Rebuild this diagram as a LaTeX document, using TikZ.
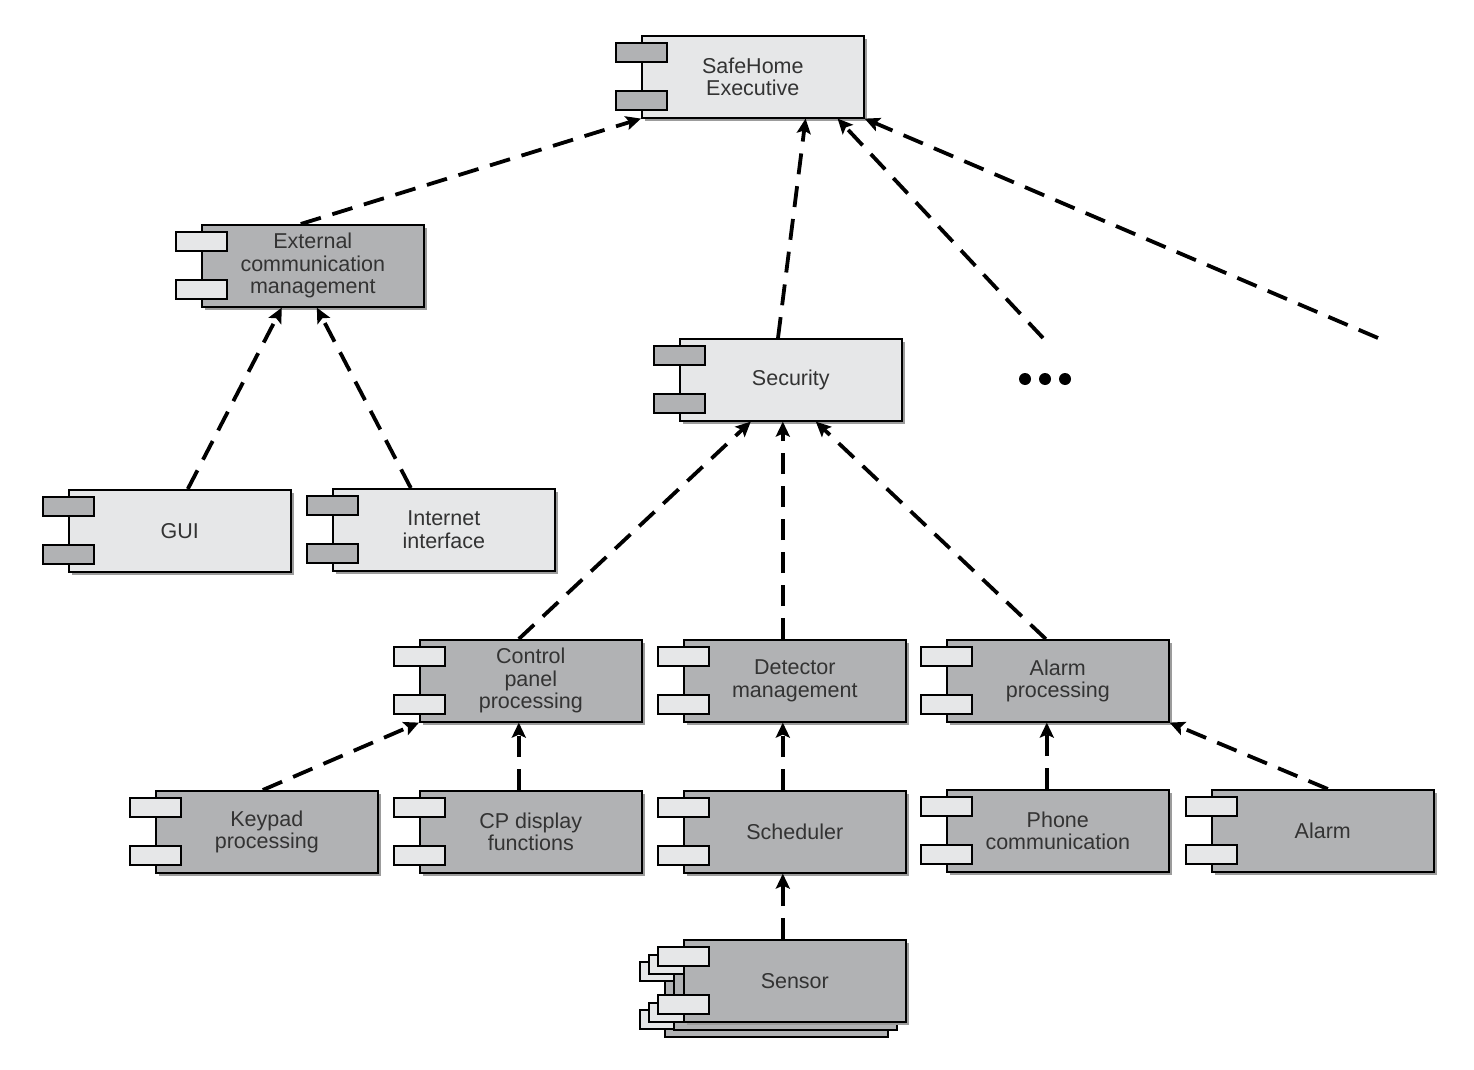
\documentclass[tikz,border=0pt]{standalone}
\usepackage{fontspec}
\setmainfont{Liberation Sans}
\usetikzlibrary{arrows.meta,shadows,calc}
\definecolor{lightf}{HTML}{E6E7E8}
\definecolor{darkf}{HTML}{B1B2B4}
\definecolor{shad}{HTML}{9C9C9C}
\definecolor{txt}{HTML}{333333}
\tikzset{
  compbox/.style={draw=black, line width=1.6pt, anchor=north west, minimum width=222pt,
    minimum height=82pt, inner sep=0pt, align=center, text=txt,
    font=\fontsize{21.5}{22.5}\selectfont,
    drop shadow={shadow xshift=3pt, shadow yshift=-3pt, fill=shad, opacity=1}},
  tabbox/.style={draw=black, line width=1.6pt},
  backbox/.style={draw=black, line width=1.6pt, fill=darkf},
  dep/.style={line width=3.8pt, dash pattern=on 21pt off 12pt,
    -{Stealth[length=15pt,width=14pt,inset=3pt]}},
}
\newcommand{\comptabs}[3]{%
  \draw[tabbox,fill=#3] (#1-25,#2+8) rectangle (#1+26,#2+27);
  \draw[tabbox,fill=#3] (#1-25,#2+56) rectangle (#1+26,#2+75);}
\newcommand{\comp}[6]{%
  \node[compbox,fill=#4] (#1) at (#2,#3) {#6};
  \comptabs{#2}{#3}{#5}}
\begin{document}
\begin{tikzpicture}[x=1pt,y=-1pt]
\fill[white] (0,0) rectangle (1474,1070);
\useasboundingbox (0,0) rectangle (1474,1070);

% sensor stack (back copies)
\draw[backbox] (665,954) rectangle ++(223,83);
\comptabs{665}{954}{lightf}
\draw[backbox] (674,947) rectangle ++(223,83);
\comptabs{674}{947}{lightf}

\comp{exec}{641}{35}{lightf}{darkf}{SafeHome\\Executive}
\comp{ext}{201}{224}{darkf}{lightf}{External\\communication\\management}
\comp{sec}{679}{338}{lightf}{darkf}{Security}
\comp{gui}{68}{489}{lightf}{darkf}{GUI}
\comp{inet}{332}{488}{lightf}{darkf}{Internet\\interface}
\comp{cpp}{419}{639}{darkf}{lightf}{Control\\panel\\processing}
\comp{det}{683}{639}{darkf}{lightf}{Detector\\management}
\comp{alp}{946}{639}{darkf}{lightf}{Alarm\\processing}
\comp{key}{155}{790}{darkf}{lightf}{Keypad\\processing}
\comp{cpd}{419}{790}{darkf}{lightf}{CP display\\functions}
\comp{sch}{683}{790}{darkf}{lightf}{Scheduler}
\comp{phone}{946}{789}{darkf}{lightf}{Phone\\communication}
\comp{alarm}{1211}{789}{darkf}{lightf}{Alarm}
\comp{sensor}{683}{939}{darkf}{lightf}{Sensor}

\coordinate (more1) at (1043,338);
\coordinate (more2) at (1378,338);

% connectors
\draw[dep] ([xshift=-12pt]ext.north) -- (exec.south west);
\draw[dep] ([xshift=53pt]sec.north west) ++(46pt,0) -- ([xshift=-59pt]exec.south east);
\draw[dep] (more1) -- ([xshift=-27pt]exec.south east);
\draw[dep] (more2) -- (exec.south east);
\draw[dep] ([xshift=8pt]gui.north) -- ([xshift=-31pt]ext.south);
\draw[dep] ([xshift=-33pt]inet.north) -- ([xshift=4pt]ext.south);
\draw[dep] ([xshift=-12pt]cpp.north) -- ([xshift=-40pt]sec.south);
\draw[dep] ([xshift=-12pt]det.north) -- ([xshift=-8pt]sec.south);
\draw[dep] ([xshift=-12pt]alp.north) -- ([xshift=25pt]sec.south);
\draw[dep] ([xshift=-4pt]key.north) -- (cpp.south west);
\draw[dep] ([xshift=-12pt]cpd.north) -- ([xshift=-12pt]cpp.south);
\draw[dep] ([xshift=-12pt]sch.north) -- ([xshift=-12pt]det.south);
\draw[dep] ([xshift=-11pt]phone.north) -- ([xshift=-11pt]alp.south);
\draw[dep] ([xshift=5pt]alarm.north) -- (alp.south east);
\draw[dep] ([xshift=-12pt]sensor.north) -- ([xshift=-12pt]sch.south);

% ellipsis dots
\fill (1025,379) circle (6pt);
\fill (1045,379) circle (6pt);
\fill (1065,379) circle (6pt);
\end{tikzpicture}
\end{document}
